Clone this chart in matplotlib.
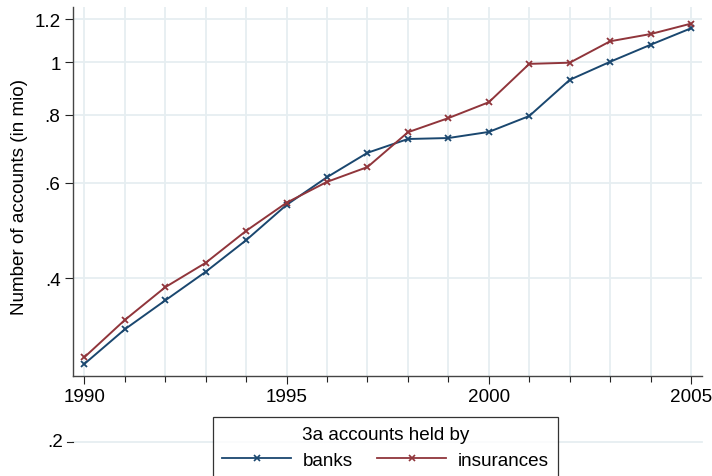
import numpy as np
import matplotlib
matplotlib.use("Agg")
import matplotlib.pyplot as plt
import matplotlib.transforms as mtransforms
from matplotlib.lines import Line2D

plt.rcParams['font.family'] = ['Liberation Sans', 'DejaVu Sans']

# data (values in mio)
years = list(range(1990, 2006))
banks = [0.278, 0.322, 0.364, 0.411, 0.470, 0.546, 0.614, 0.681,
         0.722, 0.725, 0.744, 0.796, 0.928, 1.002, 1.077, 1.155]
insurances = [0.286, 0.335, 0.385, 0.427, 0.489, 0.551, 0.602, 0.641,
              0.743, 0.789, 0.844, 0.993, 0.998, 1.093, 1.127, 1.178]
ytick_vals = [0.4, 0.6, 0.8, 1.0, 1.2]
ytick_labels = ['.4', '.6', '.8', '1', '1.2']
xtick_major = [1990, 1995, 2000, 2005]

NAVY = '#1a476f'
MAROON = '#90353b'
GRID = '#e6eef1'
FS = 13.6

W, H = 712, 477
fig = plt.figure(figsize=(W / 100, H / 100), dpi=100)
fig.patch.set_facecolor('white')

# axes box in pixels
left, right, top, bottom = 73, 702, 8, 376.7
ax = fig.add_axes([left / W, 1 - bottom / H, (right - left) / W, (bottom - top) / H])
ax.set_yscale('log')
ax.set_xlim(1989.72, 2005.27)
ax.set_ylim(0.2645, 1.264)

ax.plot(years, banks, color=NAVY, lw=1.4, marker='x', ms=5, mew=1.3, zorder=3)
ax.plot(years, insurances, color=MAROON, lw=1.4, marker='x', ms=5, mew=1.3, zorder=3)

ax.set_yticks(ytick_vals)
ax.set_yticklabels(ytick_labels)
ax.yaxis.set_minor_locator(matplotlib.ticker.NullLocator())
ax.set_xticks(xtick_major)
ax.set_xticks(years, minor=True)
ax.tick_params(axis='both', which='major', labelsize=FS, length=6, width=0.8,
               direction='out', colors='#222222', labelcolor='black')
ax.tick_params(axis='x', which='minor', length=4, width=0.8, colors='#222222')
ax.tick_params(axis='x', pad=3)
ax.tick_params(axis='y', pad=3)

ax.grid(True, which='major', axis='y', color=GRID, lw=1.3, zorder=0)
for yr in years:
    ax.axvline(yr, color=GRID, lw=1.3, zorder=0)

ax.spines['top'].set_visible(False)
ax.spines['right'].set_visible(False)
for s in ('left', 'bottom'):
    ax.spines[s].set_color('#444444')
    ax.spines[s].set_linewidth(1.0)

# the stray .2 tick and its gridline below the x axis
trans = mtransforms.blended_transform_factory(ax.transAxes, ax.transData)
ax.plot([0, 1], [0.2, 0.2], transform=trans, color=GRID, lw=1.3, clip_on=False, zorder=0)
ax.plot([-6 / (right - left), 0], [0.2, 0.2], transform=trans, color='#222222',
        lw=0.8, clip_on=False)
ax.text(-10 / (right - left), 0.2, '.2', transform=trans, ha='right', va='center',
        fontsize=FS)

fig.text(20 / W, 1 - 197 / H, 'Number of accounts (in mio)', rotation=90,
         ha='center', va='center', fontsize=FS)

# legend box
handles = [Line2D([], [], color=NAVY, lw=1.3, marker='x', ms=4, mew=1.2),
           Line2D([], [], color=MAROON, lw=1.3, marker='x', ms=4, mew=1.2)]
leg = fig.legend(handles, ['banks', 'insurances'], ncol=2,
                 loc='upper left', bbox_to_anchor=(213 / W, 1 - 418 / H),
                 title='3a accounts held by', fontsize=FS, title_fontsize=FS,
                 frameon=True, fancybox=False, edgecolor='black',
                 handlelength=3.65, columnspacing=1.3, handletextpad=0.6,
                 borderpad=0.5, labelspacing=0.2, borderaxespad=0)
leg.get_frame().set_linewidth(0.9)
leg._legend_box.sep = 6

fig.savefig('out.png', dpi=100, facecolor='white')
